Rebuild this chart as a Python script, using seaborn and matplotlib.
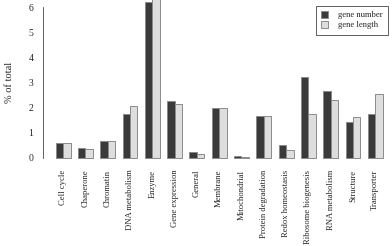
import numpy as np
import pandas as pd
import matplotlib
matplotlib.use("Agg")
import matplotlib.pyplot as plt
import seaborn as sns

categories = ["Cell cycle", "Chaperone", "Chromatin", "DNA metabolism", "Enzyme",
              "Gene expression", "General", "Membrane", "Mitochondrial",
              "Protein degradation", "Redox homeostasis", "Ribosome biogenesis",
              "RNA metabolism", "Structure", "Transporter"]
gene_number = [0.60, 0.38, 0.65, 1.76, 6.21, 2.26, 0.21, 2.00, 0.08, 1.68, 0.52, 3.21, 2.67, 1.41, 1.76]
gene_length = [0.57, 0.35, 0.65, 2.06, 6.35, 2.13, 0.16, 2.00, 0.04, 1.68, 0.29, 1.76, 2.31, 1.63, 2.54]
series = ["gene number", "gene length"]
colors = ["#3a3a3a", "#dedede"]
yticks = [0, 1, 2, 3, 4, 5, 6]

df = pd.DataFrame({
    "category": categories * 2,
    "value": gene_number + gene_length,
    "series": [series[0]] * len(categories) + [series[1]] * len(categories),
})

sns.set_style("white")
plt.rcParams["font.family"] = ["Liberation Serif", "DejaVu Serif"]

W, H = 392, 246
fig = plt.figure(figsize=(W / 100, H / 100), dpi=100)
# axes in pixel terms: left 43, right 392, top 0, bottom 164
ax = fig.add_axes([43 / W, 1 - 164 / H, (392 - 43) / W, 164 / H])

sns.barplot(data=df, x="category", y="value", hue="series", hue_order=series,
            palette=colors, width=0.667, edgecolor="#8a8a8a", linewidth=0.7,
            ax=ax, legend=True)

ax.set_xlim(-0.9, 14.75)
ax.set_ylim(-0.25, 6.29)
ax.set_yticks(yticks)
ax.set_yticklabels([str(t) for t in yticks], fontsize=7)
ax.tick_params(axis="y", direction="out", length=4, width=0.6, pad=3, color="#444444")
ax.tick_params(axis="x", length=0, pad=4)
ax.set_xticks(range(len(categories)))
ax.set_xticklabels(categories, rotation=90, fontsize=6.2, va="top", ha="center")
ax.set_xlabel("")
ax.set_ylabel("% of total", fontsize=7.5, labelpad=10)

for s in ["top", "right", "bottom"]:
    ax.spines[s].set_visible(False)
ax.spines["left"].set_bounds(0, 6)
ax.spines["left"].set_linewidth(0.6)
ax.spines["left"].set_color("#444444")

ax.legend(loc="upper right", bbox_to_anchor=(1.0, 0.99), fontsize=6.2,
          frameon=True, fancybox=False, edgecolor="#444444", framealpha=1,
          handlelength=0.8, handleheight=0.8, handletextpad=1.2,
          borderpad=0.6, labelspacing=0.2)
ax.get_legend().get_frame().set_linewidth(0.6)

fig.savefig("out.png", dpi=100)
